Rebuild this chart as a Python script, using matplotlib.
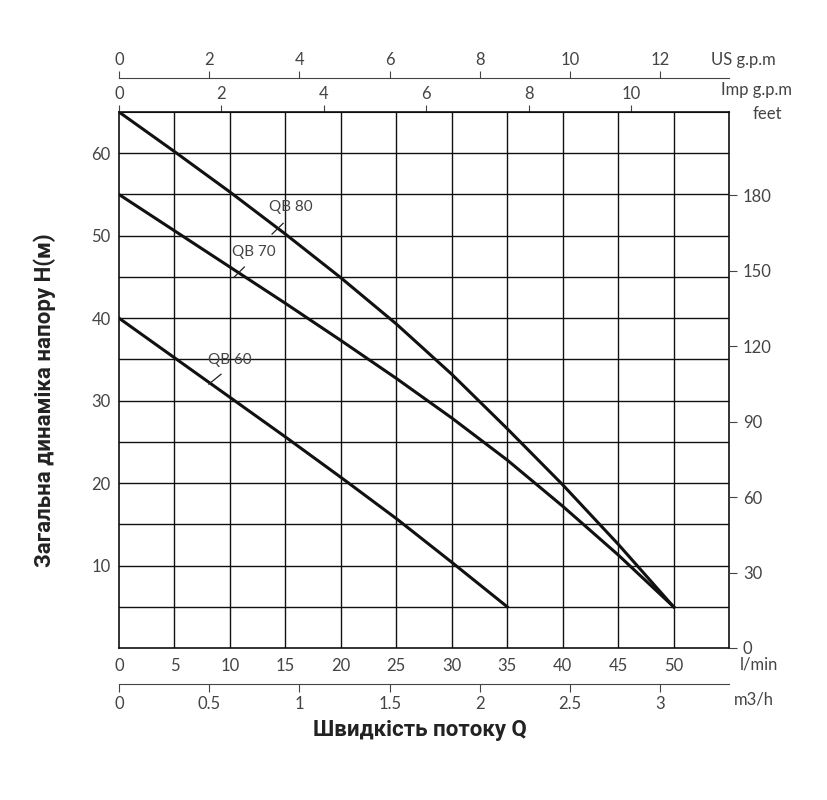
import matplotlib
matplotlib.use("Agg")
import matplotlib.pyplot as plt
import numpy as np

flow = [0, 5, 10, 15, 20, 25, 30, 35, 40, 45, 50]
qb80 = [65, 60.2, 55.3, 50.2, 44.9, 39.3, 33.2, 26.6, 19.8, 12.6, 5]
qb70 = [55, 50.6, 46.2, 41.8, 37.3, 32.7, 27.9, 22.8, 17.2, 11.3, 5]
flow60 = [0, 5, 10, 15, 20, 25, 30, 35]
qb60 = [40, 35.2, 30.4, 25.6, 20.7, 15.7, 10.4, 5]
lmin_ticks = [0, 5, 10, 15, 20, 25, 30, 35, 40, 45, 50]
m3h_ticks = [0, 0.5, 1, 1.5, 2, 2.5, 3]
us_ticks = [0, 2, 4, 6, 8, 10, 12]
imp_ticks = [0, 2, 4, 6, 8, 10]
feet_ticks = [0, 30, 60, 90, 120, 150, 180]
head_ticks = [10, 20, 30, 40, 50, 60]

M3H = 16.27   # l/min per drawn m3/h unit (as on chart)
USG = 4.066
IMPG = 4.617
FT = 3.28

plt.rcParams['font.family'] = ['Lato', 'DejaVu Sans']
tc = '#444444'
fig = plt.figure(figsize=(8.27, 8.0), dpi=100)
W, H = 827, 800
ax = fig.add_axes([119/W, 1-648/H, (729-119)/W, (648-112)/H])
ax.set_xlim(0, 55)
ax.set_ylim(0, 65)
for v in np.arange(5, 55, 5):
    ax.axvline(v, color='#111', lw=1.0, zorder=1)
for v in np.arange(5, 65, 5):
    ax.axhline(v, color='#111', lw=1.0, zorder=1)
for s in ax.spines.values():
    s.set_color('#111'); s.set_linewidth(1.2)

ax.plot(flow, qb80, color='#111', lw=2.2, zorder=3)
ax.plot(flow, qb70, color='#111', lw=2.2, zorder=3)
ax.plot(flow60, qb60, color='#111', lw=2.2, zorder=3)

for txt, (tx, ty), (x0, y0, x1, y1) in [
        ('QB 80', (13.5, 53), (14.8, 51.5, 13.8, 50.2)),
        ('QB 70', (10.2, 47.5), (11.3, 46.2, 10.4, 45.0)),
        ('QB 60', (8.0, 34.5), (9.2, 33.2, 8.1, 32.0))]:
    ax.text(tx, ty, txt, fontsize=11, color=tc, zorder=4)
    ax.plot([x0, x1], [y0, y1], color='#222', lw=0.9, zorder=4)

ax.set_yticks(head_ticks)
ax.set_yticklabels([str(t) for t in head_ticks], fontsize=12, color=tc)
ax.tick_params(axis='y', length=0, pad=6)
ax.set_xticks(lmin_ticks)
ax.set_xticklabels([str(t) for t in lmin_ticks], fontsize=12, color=tc)
ax.tick_params(axis='x', length=0, pad=7)
ax.text(56, -2.0, 'l/min', fontsize=12, color=tc, ha='left', va='center')

# right feet axis
ay = ax.twinx()
ay.set_ylim(0, 65*FT)
ay.set_yticks(feet_ticks)
ay.set_yticklabels([str(t) for t in feet_ticks], fontsize=12, color=tc)
ay.tick_params(axis='y', length=6, color='#444', pad=4)
for s in ay.spines.values():
    s.set_visible(False)
ax.text(58.5, 64.7, 'feet', fontsize=12, color=tc, ha='center', va='center')

# m3/h axis
sm = ax.secondary_xaxis(-0.067, functions=(lambda x: x/M3H, lambda x: x*M3H))
sm.set_xticks(m3h_ticks)
sm.set_xticklabels([str(t) for t in m3h_ticks], fontsize=12, color=tc)
sm.tick_params(length=6, color='#444', pad=3)
sm.spines['bottom'].set_color('#444')
ax.text(57.2, -6.3, 'm3/h', fontsize=12, color=tc, ha='center', va='center')

# Imp g.p.m on top spine
si = ax.secondary_xaxis('top', functions=(lambda x: x/IMPG, lambda x: x*IMPG))
si.set_xticks(imp_ticks)
si.set_xticklabels([str(t) for t in imp_ticks], fontsize=12, color=tc)
si.tick_params(length=5, color='#444', pad=2)
ax.text(57.5, 67.7, 'Imp g.p.m', fontsize=12, color=tc, ha='center', va='center')

# US g.p.m
su = ax.secondary_xaxis(1.064, functions=(lambda x: x/USG, lambda x: x*USG))
su.set_xticks(us_ticks)
su.set_xticklabels([str(t) for t in us_ticks], fontsize=12, color=tc)
su.tick_params(length=5, color='#444', pad=2)
su.spines['top'].set_color('#444')
ax.text(56.3, 71.3, 'US g.p.m', fontsize=12, color=tc, ha='center', va='center')

fig.text(45/W, 1-400/H, 'Загальна динаміка напору H(м)', rotation=90,
         fontsize=16, fontweight='bold', color='#222', ha='center', va='center',
         family=['Roboto', 'DejaVu Sans'])
fig.text(420/W, 1-730/H, 'Швидкість потоку Q', fontsize=16, fontweight='bold',
         color='#222', ha='center', va='center', family=['Roboto', 'DejaVu Sans'])

fig.savefig('out.png', dpi=100, facecolor='white')
